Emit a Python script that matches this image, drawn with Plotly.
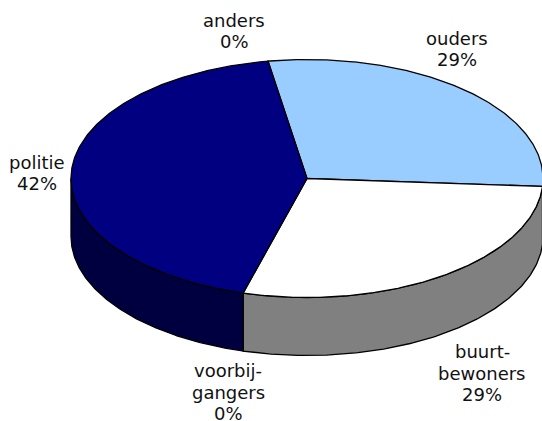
import numpy as np
import plotly.graph_objects as go

# Data
categories = ["ouders", "buurt-<br>bewoners", "voorbij-<br>gangers", "politie", "anders"]
values = [28.7, 28.3, 0, 43.0, 0]          # shares as drawn in the picture
percent_labels = ["29%", "29%", "0%", "42%", "0%"]  # as printed in the picture
top_colors = ["#99CCFF", "#FFFFFF", "#C0C0C0", "#000080", "#660066"]
side_colors = ["#4D6680", "#808080", "#606060", "#000040", "#330033"]
label_centers_x = [457, 482, 228, 37, 234]
label_first_line_y = [38, 351.5, 370.5, 162, 20]

# Pie geometry in pixels
CX, CY, RX, RY, DEPTH = 307.0, 178.5, 236.0, 119.0, 58.0
START_DEG = -9.5
LINE_GAP = 21.5
FONT = dict(family="DejaVu Sans, Verdana", size=18, color="#111111")
W, H = 542, 421


def pt(deg, dy=0.0):
    r = np.radians(deg)
    return CX + RX * np.sin(r), CY - RY * np.cos(r) + dy


fig = go.Figure()
total = sum(values)
edges = START_DEG + np.cumsum([0] + values) / total * 360.0

# Outer walls (only the front part of the rim, 90..270 degrees, is visible)
for i, v in enumerate(values):
    a0, a1 = max(edges[i], 90.0), min(edges[i + 1], 270.0)
    if v == 0 or a1 <= a0:
        continue
    deg = np.linspace(a0, a1, 160)
    x_t, y_t = pt(deg)
    x_b, y_b = pt(deg[::-1], DEPTH)
    fig.add_trace(go.Scatter(
        x=np.r_[x_t, x_b, x_t[0]], y=np.r_[y_t, y_b, y_t[0]],
        mode="lines", fill="toself", fillcolor=side_colors[i],
        line=dict(color="black", width=1.3), hoverinfo="skip", showlegend=False))

# Top face
for i, v in enumerate(values):
    if v == 0:
        continue
    deg = np.linspace(edges[i], edges[i + 1], 240)
    x_a, y_a = pt(deg)
    fig.add_trace(go.Scatter(
        x=np.r_[CX, x_a, CX], y=np.r_[CY, y_a, CY],
        mode="lines", fill="toself", fillcolor=top_colors[i],
        line=dict(color="black", width=1.3), hoverinfo="skip", showlegend=False))

# Labels: one annotation per line, to hold the line spacing of the reference
for name, pct, lx, ly in zip(categories, percent_labels, label_centers_x, label_first_line_y):
    lines = name.split("<br>") + [pct]
    for k, line in enumerate(lines):
        fig.add_annotation(x=lx, y=ly + k * LINE_GAP, text=line, showarrow=False,
                           xanchor="center", yanchor="middle", font=FONT)

fig.update_layout(
    width=W, height=H, autosize=False, margin=dict(l=0, r=0, t=0, b=0),
    paper_bgcolor="white", plot_bgcolor="white", showlegend=False,
    xaxis=dict(range=[0, W], visible=False, fixedrange=True),
    yaxis=dict(range=[H, 0], visible=False, fixedrange=True),
)
fig.write_html("out.html", config=dict(displayModeBar=False),
               post_script="document.body.style.margin='0';document.documentElement.style.overflow='hidden';")
